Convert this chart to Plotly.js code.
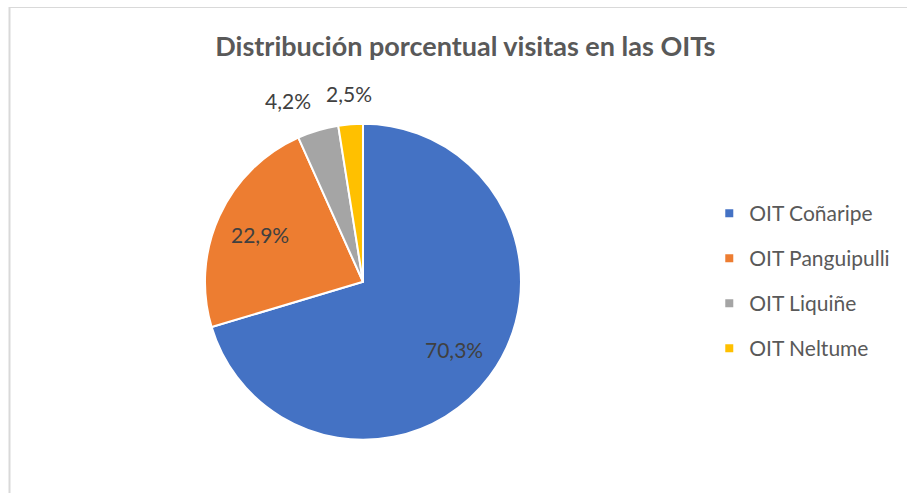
<!DOCTYPE html>
<html>
<head>
<meta charset="utf-8">
<script src="https://cdn.plot.ly/plotly-3.0.1.min.js"></script>
<style>
  body { margin: 0; background: #fff; }
  #chart { width: 907px; height: 493px; }
</style>
</head>
<body>
<div id="chart"></div>
<script>
let labels = ['OIT Coñaripe', 'OIT Panguipulli', 'OIT Liquiñe', 'OIT Neltume']
let values = [70.3, 22.9, 4.2, 2.5]
let colors = ['#4472C4', '#ED7D31', '#A5A5A5', '#FFC000']
let outside = [false, false, true, true]

let W = 907, H = 493
let font = 'Lato, "Open Sans", sans-serif'
let dom = {x: [0.226, 0.5744], y: [0.108, 0.749]}
let fmt = v => v.toFixed(1).replace('.', ',') + '%'

let pie = {
  type: 'pie',
  labels: labels,
  values: values,
  sort: false,
  direction: 'clockwise',
  rotation: 0,
  marker: {colors: colors, line: {color: '#ffffff', width: 2}},
  textinfo: 'none',
  showlegend: false,
  hoverinfo: 'label+value',
  domain: dom
}

// data labels: inside ones at a fixed fraction of the radius,
// small slices just above the slice, on the side the middle angle points to
let total = values.reduce((a, b) => a + b, 0)
let cx = (dom.x[0] + dom.x[1]) / 2
let cy = (dom.y[0] + dom.y[1]) / 2
let R = Math.min((dom.x[1] - dom.x[0]) * W, (dom.y[1] - dom.y[0]) * H) / 2
let annotations = []
let cum = 0
values.forEach((v, i) => {
  let mid = (cum + v / 2) / total * 2 * Math.PI
  cum += v
  let r = outside[i] ? R * 1.1 : R * 0.72
  let s = Math.sin(mid)
  annotations.push({
    xref: 'paper', yref: 'paper',
    x: cx + r * s / W,
    y: cy + r * Math.cos(mid) / H,
    xanchor: !outside[i] ? 'center' : (s < -0.1 ? 'right' : (s > 0.1 ? 'left' : 'center')),
    yanchor: outside[i] ? 'bottom' : 'middle',
    text: fmt(v),
    showarrow: false,
    font: {family: font, size: 21, color: '#404040'}
  })
})

// legend entries, one per slice so the gap between them can be set
let legendTraces = labels.map((name, i) => {
  return {
    type: 'scatter',
    mode: 'markers',
    x: [null],
    y: [null],
    name: name,
    legendgroup: 'g' + i,
    marker: {symbol: 'square', size: 8, color: colors[i]},
    hoverinfo: 'skip'
  }
})

let layout = {
  width: W,
  height: H,
  margin: {l: 0, r: 0, t: 0, b: 0},
  paper_bgcolor: '#ffffff',
  plot_bgcolor: '#ffffff',
  separators: ',.',
  title: {
    text: '<b>Distribución porcentual visitas en las OITs</b>',
    font: {family: font, size: 27, color: '#595959'},
    x: 0.513,
    xanchor: 'center',
    y: 1 - 47 / H,
    yanchor: 'middle'
  },
  xaxis: {visible: false},
  yaxis: {visible: false},
  showlegend: true,
  legend: {
    x: 0.782,
    y: 1 - 193 / H,
    xanchor: 'left',
    yanchor: 'top',
    tracegroupgap: 14.7,
    itemwidth: 30,
    font: {family: font, size: 21, color: '#595959'},
    bgcolor: 'rgba(0,0,0,0)'
  },
  annotations: annotations,
  shapes: [
    {type: 'line', xref: 'paper', yref: 'paper', x0: 9.5 / W, x1: 9.5 / W, y0: 0, y1: 1 - 7 / H,
      line: {color: '#d9d9d9', width: 2}},
    {type: 'line', xref: 'paper', yref: 'paper', x0: 9 / W, x1: 1, y0: 1 - 7.5 / H, y1: 1 - 7.5 / H,
      line: {color: '#d9d9d9', width: 1}}
  ]
}

Plotly.newPlot('chart', [pie].concat(legendTraces), layout, {displayModeBar: false})
</script>
</body>
</html>
